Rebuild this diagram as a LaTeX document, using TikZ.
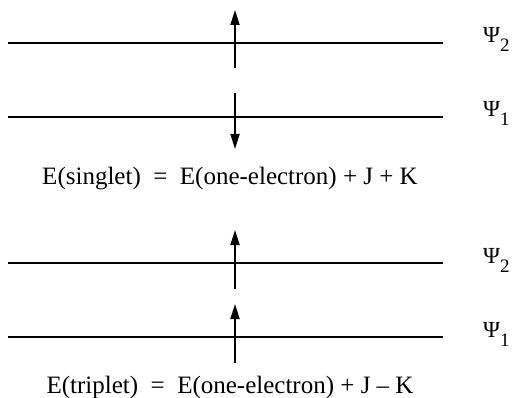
\documentclass[tikz,border=0pt]{standalone}
\usepackage{fontspec}
\setmainfont{Liberation Serif}
\usetikzlibrary{arrows.meta}

\begin{document}
\begin{tikzpicture}[x=1pt, y=-1pt,
    niveau/.style={line width=1.6pt},
    spin/.style={-{Triangle[length=15pt,width=9pt]}, line width=1.8pt},
    psi/.style={anchor=base west, inner sep=0pt, font=\fontsize{23}{26}\selectfont},
    energie/.style={anchor=base, inner sep=0pt, font=\fontsize{25}{28}\selectfont}]
    \useasboundingbox (0,0) rectangle (513,398);
    % Singulet : niveau Psi_2
    \draw[niveau] (8,43) coordinate (s2g) -- (443,43) coordinate (s2d);
    \node[psi] (s2psi) at (483,43) {Ψ\raisebox{-9pt}{\fontsize{19}{22}\selectfont 2}};
    % Singulet : niveau Psi_1
    \draw[niveau] (8,117) coordinate (s1g) -- (443,117) coordinate (s1d);
    \node[psi] (s1psi) at (483,117) {Ψ\raisebox{-9pt}{\fontsize{19}{22}\selectfont 1}};
    % Spins (haut, bas)
    \coordinate (s2a) at (235,68);  \coordinate (s2b) at (235,10);
    \coordinate (s1a) at (235,93);  \coordinate (s1b) at (235,149);
    \draw[spin] (s2a) -- (s2b);
    \draw[spin] (s1a) -- (s1b);
    \node[energie] (esing) at (230,184) {E(singlet) \ = \ E(one-electron) + J + K};
    % Triplet : niveau Psi_2
    \draw[niveau] (8,263) coordinate (t2g) -- (443,263) coordinate (t2d);
    \node[psi] (t2psi) at (483,263) {Ψ\raisebox{-9pt}{\fontsize{19}{22}\selectfont 2}};
    % Triplet : niveau Psi_1
    \draw[niveau] (8,337) coordinate (t1g) -- (443,337) coordinate (t1d);
    \node[psi] (t1psi) at (483,337) {Ψ\raisebox{-9pt}{\fontsize{19}{22}\selectfont 1}};
    % Spins (haut, haut)
    \coordinate (t2a) at (235,289); \coordinate (t2b) at (235,230);
    \coordinate (t1a) at (235,363); \coordinate (t1b) at (235,304);
    \draw[spin] (t2a) -- (t2b);
    \draw[spin] (t1a) -- (t1b);
    \node[energie] (etrip) at (230,393) {E(triplet) \ = \ E(one-electron) + J -- K};
\end{tikzpicture}
\end{document}
